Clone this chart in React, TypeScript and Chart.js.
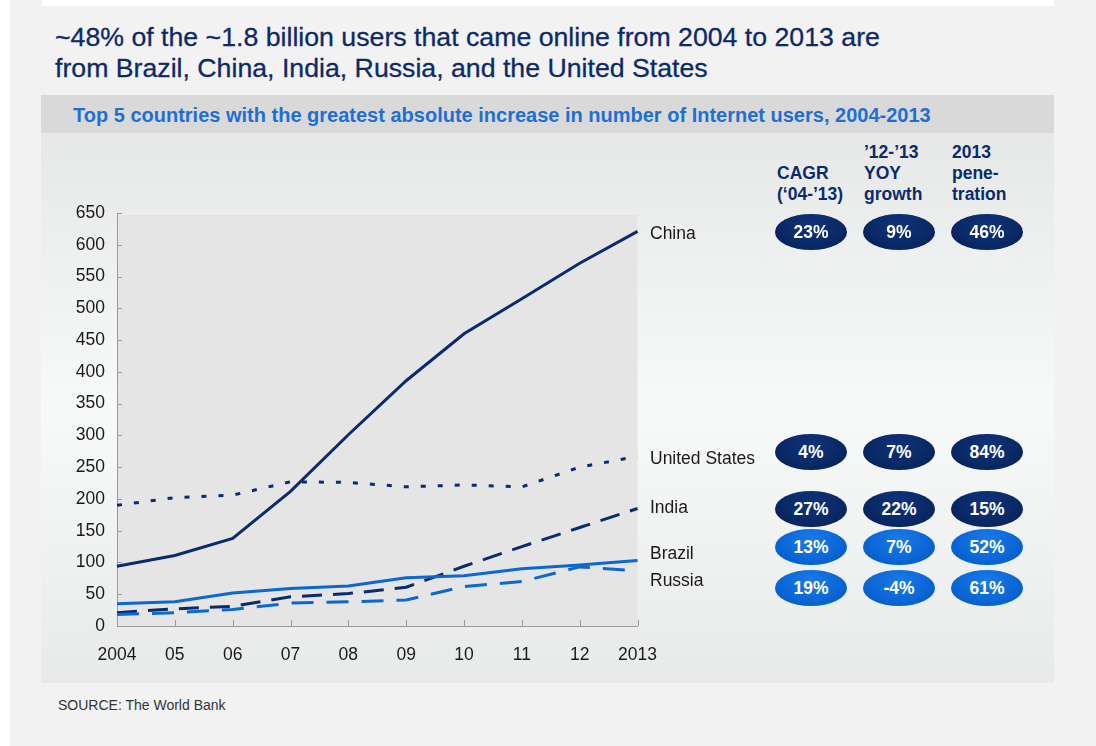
import React, { useEffect, useRef } from "react";
import { Chart, registerables } from "chart.js";

Chart.register(...registerables);

const years = ["2004", "05", "06", "07", "08", "09", "10", "11", "12", "2013"];
const china = [94, 111, 138, 212, 301, 386, 460, 515, 571, 621];
const unitedStates = [190, 202, 206, 227, 226, 219, 222, 219, 250, 267];
const india = [21, 27, 31, 46, 51, 61, 94, 125, 155, 185];
const brazil = [35, 38, 52, 59, 63, 76, 79, 90, 96, 103];
const russia = [18, 21, 26, 36, 38, 41, 62, 70, 93, 87];

const countries = ["China", "United States", "India", "Brazil", "Russia"];
const cagr = ["23%", "4%", "27%", "13%", "19%"];
const yoy = ["9%", "7%", "22%", "7%", "-4%"];
const penetration = ["46%", "84%", "15%", "52%", "61%"];
const darkRow = [true, true, true, false, false];

const NAVY = "#0b2b6a";
const BLUE = "#0a68d0";
const FONT = "'Liberation Sans', Arial, Helvetica, sans-serif";
const FS = 17.5;

// layout (page coordinates)
const labelCenterY = [233, 458, 507, 553, 580];
const pillCenterY = [232, 452, 509, 547, 588];
const pillCenterX = [811, 899, 987];

const CANVAS_LEFT = 41;
const CANVAS_TOP = 133;
const CANVAS_W = 635;
const CANVAS_H = 550;

export default function App() {
  const ref = useRef<HTMLCanvasElement>(null);

  useEffect(() => {
    if (!ref.current) return;
    const bgPlugin = {
      id: "plotbg",
      beforeDraw(chart: any) {
        const { ctx, chartArea } = chart;
        ctx.save();
        ctx.fillStyle = "#e5e5e5";
        ctx.fillRect(chartArea.left, chartArea.top + 2, chartArea.right - chartArea.left, chartArea.bottom - chartArea.top - 2);
        ctx.restore();
      },
      afterDraw(chart: any) {
        const { ctx, chartArea, scales } = chart;
        ctx.save();
        ctx.strokeStyle = "#9a9a9a";
        ctx.lineWidth = 1;
        ctx.beginPath();
        scales.y.ticks.forEach((t: any) => {
          const y = Math.round(scales.y.getPixelForValue(t.value)) + 0.5;
          ctx.moveTo(chartArea.left, y);
          ctx.lineTo(chartArea.left + 5, y);
        });
        years.forEach((_, i) => {
          const x = Math.round(scales.x.getPixelForValue(i)) + 0.5;
          ctx.moveTo(x, chartArea.bottom);
          ctx.lineTo(x, chartArea.bottom - 6);
        });
        ctx.stroke();
        ctx.restore();
      },
    };

    const chart = new Chart(ref.current, {
      type: "line",
      data: {
        labels: years,
        datasets: [
          { label: "Russia", data: russia, borderColor: BLUE, borderDash: [22, 13] },
          { label: "Brazil", data: brazil, borderColor: BLUE },
          { label: "India", data: india, borderColor: NAVY, borderDash: [20, 11] },
          { label: "United States", data: unitedStates, borderColor: NAVY, borderDash: [5, 12] },
          { label: "China", data: china, borderColor: NAVY },
        ].map((d) => ({ ...d, borderWidth: 3, pointRadius: 0, tension: 0, fill: false, borderCapStyle: "butt" as const })),
      },
      options: {
        animation: false,
        responsive: false,
        maintainAspectRatio: false,
        layout: { padding: { top: 80, right: 0, left: 0, bottom: 0 } },
        plugins: { legend: { display: false }, tooltip: { enabled: false } },
        scales: {
          x: {
            offset: false,
            grid: { display: false, drawTicks: false },
            border: { display: true, color: "#9a9a9a", width: 1 },
            ticks: { color: "#1a1a1a", font: { family: FONT, size: FS }, padding: 19, maxRotation: 0, autoSkip: false },
            afterFit(scale: any) {
              scale.height = 57;
            },
          },
          y: {
            min: 0,
            max: 650,
            grid: { display: false, drawTicks: false },
            border: { display: true, color: "#9a9a9a", width: 1 },
            ticks: { stepSize: 50, color: "#1a1a1a", font: { family: FONT, size: FS }, padding: 12 },
            afterFit(scale: any) {
              scale.width = 76;
            },
          },
        },
      },
      plugins: [bgPlugin],
    });
    return () => chart.destroy();
  }, []);

  const headerStyle: React.CSSProperties = {
    position: "absolute",
    fontFamily: FONT,
    fontWeight: "bold",
    fontSize: FS,
    lineHeight: "21px",
    color: NAVY,
    whiteSpace: "nowrap",
  };

  return (
    <div style={{ position: "absolute", left: 0, top: 0, width: 1096, height: 746, background: "#ffffff", overflow: "hidden" }}>
      <div style={{ position: "absolute", left: 10, top: 0, right: 0, bottom: 0, background: "#f2f2f2" }} />
      <div style={{ position: "absolute", left: 42, top: 0, width: 1012, height: 6, background: "#ffffff" }} />
      <div
        style={{
          position: "absolute",
          left: 55,
          top: 22,
          fontFamily: FONT,
          fontSize: 26.7,
          lineHeight: "31px",
          color: "#0d2a66",
          whiteSpace: "nowrap",
          WebkitTextStroke: "0.3px #0d2a66",
        }}
      >
        ~48% of the ~1.8 billion users that came online from 2004 to 2013 are
        <br />
        from Brazil, China, India, Russia, and the United States
      </div>
      <div style={{ position: "absolute", left: 41, top: 95, width: 1013, height: 38, background: "#d9d9d9" }} />
      <div
        style={{
          position: "absolute",
          left: 73,
          top: 103,
          fontFamily: FONT,
          fontWeight: "bold",
          fontSize: 20,
          lineHeight: "24px",
          color: "#1f6fd1",
          whiteSpace: "nowrap",
        }}
      >
        Top 5 countries with the greatest absolute increase in number of Internet users, 2004-2013
      </div>
      <div
        style={{
          position: "absolute",
          left: 41,
          top: 133,
          width: 1013,
          height: 550,
          background: "linear-gradient(to bottom, #e6e7e7 0%, #f8f9f9 50%, #e8eaea 100%)",
        }}
      />
      <canvas
        ref={ref}
        width={CANVAS_W}
        height={CANVAS_H}
        style={{ position: "absolute", left: CANVAS_LEFT, top: CANVAS_TOP, width: CANVAS_W, height: CANVAS_H }}
      />
      <div style={{ ...headerStyle, left: 777, top: 163 }}>
        CAGR
        <br />
        (‘04-’13)
      </div>
      <div style={{ ...headerStyle, left: 864, top: 142 }}>
        ’12-’13
        <br />
        YOY
        <br />
        growth
      </div>
      <div style={{ ...headerStyle, left: 952, top: 142 }}>
        2013
        <br />
        pene-
        <br />
        tration
      </div>
      {countries.map((c, i) => (
        <div
          key={c}
          style={{
            position: "absolute",
            left: 650,
            top: labelCenterY[i] - 10,
            height: 20,
            lineHeight: "20px",
            fontFamily: FONT,
            fontSize: FS,
            color: "#1a1a1a",
            whiteSpace: "nowrap",
          }}
        >
          {c}
        </div>
      ))}
      {countries.map((c, i) =>
        [cagr[i], yoy[i], penetration[i]].map((v, j) => (
          <div
            key={c + j}
            style={{
              position: "absolute",
              left: pillCenterX[j] - 36,
              top: pillCenterY[i] - 18,
              width: 72,
              height: 36,
              borderRadius: "50%",
              background: darkRow[i]
                ? "radial-gradient(ellipse at 50% 30%, #10327a 0%, #0a2a66 55%, #031c50 100%)"
                : "radial-gradient(ellipse at 50% 30%, #1b7ae8 0%, #0b68d6 55%, #0054c0 100%)",
              color: "#ffffff",
              fontFamily: FONT,
              fontWeight: "bold",
              fontSize: FS,
              lineHeight: "36px",
              textAlign: "center",
            }}
          >
            {v}
          </div>
        ))
      )}
      <div
        style={{
          position: "absolute",
          left: 58,
          top: 697,
          fontFamily: FONT,
          fontSize: 14,
          color: "#333333",
          whiteSpace: "nowrap",
        }}
      >
        SOURCE: The World Bank
      </div>
    </div>
  );
}
